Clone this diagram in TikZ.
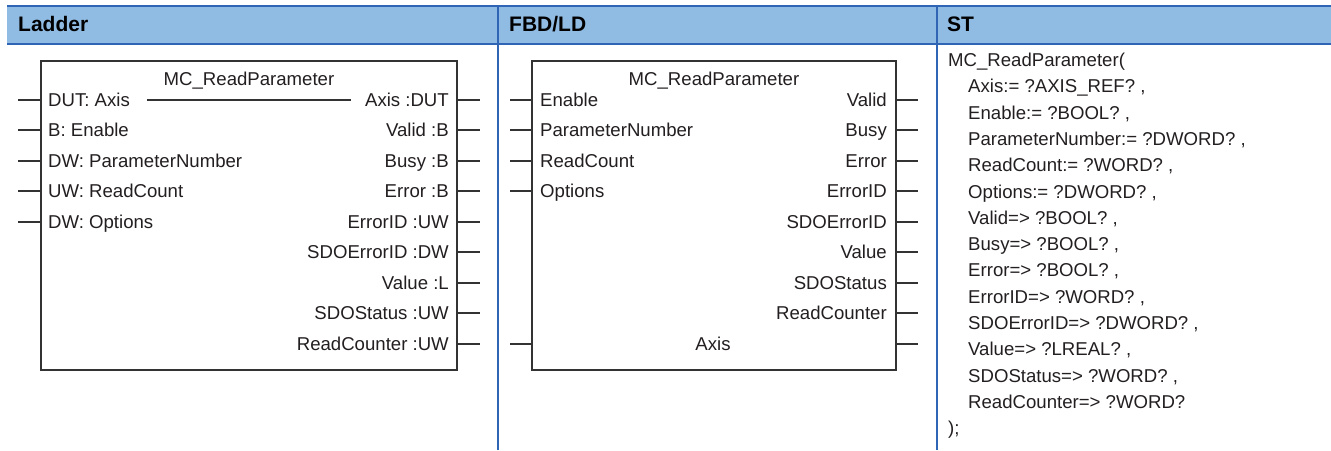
\documentclass[tikz,border=0pt]{standalone}
\usepackage{fontspec}
\setmainfont{Liberation Sans}
\definecolor{hdrfill}{HTML}{90BCE3}
\definecolor{hdrline}{HTML}{3064B4}
\definecolor{boxline}{HTML}{333333}
\definecolor{txt}{HTML}{231F20}
\begin{document}
\begin{tikzpicture}[x=1pt,y=-1pt,
  lbl/.style={inner sep=0pt, text height=13pt, text depth=0pt, text=txt, font=\fontsize{18.6}{22}\selectfont},
  lblw/.style={lbl, anchor=west},
  lble/.style={lbl, anchor=east},
  hdr/.style={inner sep=0pt, anchor=west, text height=15pt, text depth=0pt, font=\fontsize{21}{24}\selectfont\bfseries},
  fb/.style={draw=boxline, line width=1.5pt, fill=white},
  pin/.style={draw=boxline, line width=1.6pt},
  sep/.style={draw=hdrline, line width=2pt}
]
\useasboundingbox (0,0) rectangle (1331,450);
% header band
\fill[hdrfill] (7,6) rectangle (1331,44);
\draw[sep] (7,6) -- (1331,6);
\draw[sep] (7,44) -- (1331,44);
\draw[sep] (498,6) -- (498,450);
\draw[sep] (937,6) -- (937,450);
\node[hdr] (h1) at (18,24) {Ladder};
\node[hdr] (h2) at (509,24) {FBD/LD};
\node[hdr] (h3) at (947,24) {ST};

% ---------- Ladder block ----------
\draw[fb] (41,61) rectangle (457,370);
\node[lbl, anchor=center] (lt) at (249,79) {MC\_ReadParameter};
\foreach \n/\t/\y in {la/DUT: Axis/100, lb/B: Enable/130, lc/DW: ParameterNumber/161, ld/UW: ReadCount/191, le/DW: Options/222}{
  \node[lblw] (\n) at (48,\y) {\t};
  \coordinate (\n i) at (41,\y);
  \coordinate (\n o) at (18,\y);
  \draw[pin] (\n o) -- (\n i);
}
\foreach \n/\t/\y in {ra/Axis :DUT/100, rb/Valid :B/130, rc/Busy :B/161, rd/Error :B/191, re/ErrorID :UW/222, rf/SDOErrorID :DW/252, rg/Value :L/283, rh/SDOStatus :UW/313, ri/ReadCounter :UW/344}{
  \node[lble] (\n) at (449,\y) {\t};
  \coordinate (\n i) at (457,\y);
  \coordinate (\n o) at (480,\y);
  \draw[pin] (\n i) -- (\n o);
}
\coordinate (dutA) at (147,100);
\coordinate (dutB) at (351,100);
\draw[pin] (dutA) -- (dutB);

% ---------- FBD/LD block ----------
\draw[fb] (532,61) rectangle (896,370);
\node[lbl, anchor=center] (ft) at (714,79) {MC\_ReadParameter};
\foreach \n/\t/\y in {fla/Enable/100, flb/ParameterNumber/130, flc/ReadCount/161, fld/Options/191}{
  \node[lblw] (\n) at (540,\y) {\t};
  \coordinate (\n i) at (532,\y);
  \coordinate (\n o) at (510,\y);
  \draw[pin] (\n o) -- (\n i);
}
\foreach \n/\t/\y in {fra/Valid/100, frb/Busy/130, frc/Error/161, frd/ErrorID/191, fre/SDOErrorID/222, frf/Value/252, frg/SDOStatus/283, frh/ReadCounter/313}{
  \node[lble] (\n) at (887,\y) {\t};
  \coordinate (\n i) at (896,\y);
  \coordinate (\n o) at (918,\y);
  \draw[pin] (\n i) -- (\n o);
}
\node[lbl, anchor=center] (fax) at (713,344) {Axis};
\coordinate (faxli) at (532,344);
\coordinate (faxlo) at (510,344);
\coordinate (faxri) at (896,344);
\coordinate (faxro) at (918,344);
\draw[pin] (faxlo) -- (faxli);
\draw[pin] (faxri) -- (faxro);

% ---------- ST ----------
\node[lblw] (s0) at (948,60) {MC\_ReadParameter(};
\foreach \n/\t [count=\i from 1] in {s1/{Axis:= ?AXIS\_REF? ,}, s2/{Enable:= ?BOOL? ,}, s3/{ParameterNumber:= ?DWORD? ,}, s4/{ReadCount:= ?WORD? ,}, s5/{Options:= ?DWORD? ,}, s6/{Valid=> ?BOOL? ,}, s7/{Busy=> ?BOOL? ,}, s8/{Error=> ?BOOL? ,}, s9/{ErrorID=> ?WORD? ,}, s10/{SDOErrorID=> ?DWORD? ,}, s11/{Value=> ?LREAL? ,}, s12/{SDOStatus=> ?WORD? ,}, s13/{ReadCounter=> ?WORD?}}{
  \node[lblw] (\n) at (968,60+26.3*\i) {\t};
}
\node[lblw] (s14) at (948,428) {);};
\end{tikzpicture}
\end{document}
